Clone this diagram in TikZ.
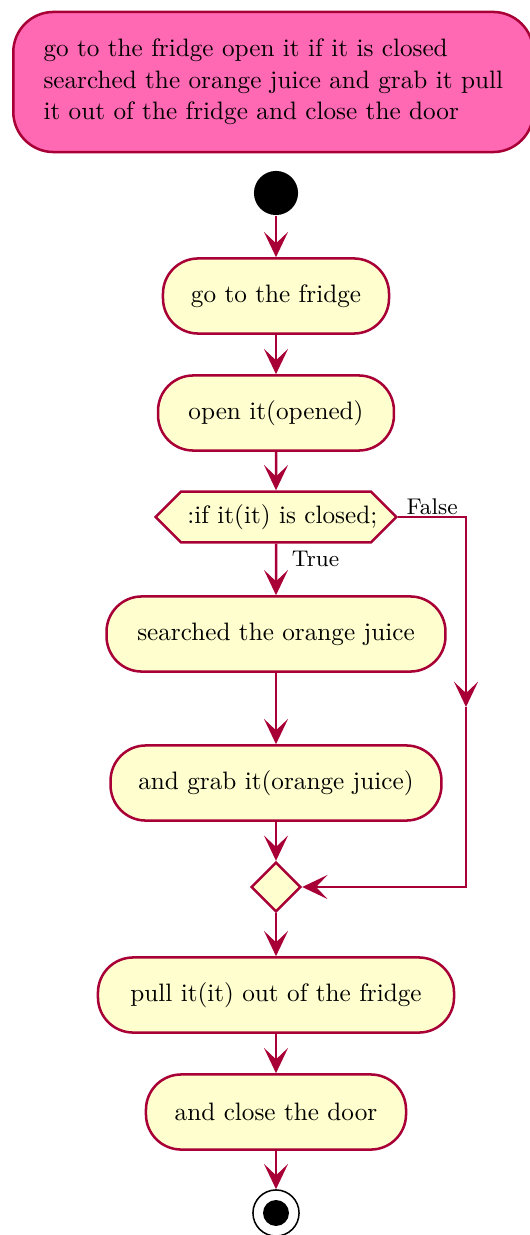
\documentclass[tikz,border=0pt]{standalone}
\usepackage{tikz}
\usetikzlibrary{positioning,arrows.meta,shapes.geometric,shapes.symbols}
\usepackage{xcolor}
\definecolor{umlred}{HTML}{A80036}
\definecolor{umlfill}{HTML}{FEFECE}
\definecolor{notepink}{HTML}{FF69B4}

\begin{document}
\begin{tikzpicture}[x=0.3968pt,y=-0.3968pt,>={Stealth[length=10pt,width=9.5pt,inset=4.5pt]},
  act/.style={draw=umlred,fill=umlfill,line width=1pt,rounded corners=14pt,minimum height=29.8pt,inner sep=0pt},
  flow/.style={->,draw=umlred,line width=1pt}]
\useasboundingbox (0,0) rectangle (529,1235);
\node[draw=umlred,fill=notepink,line width=1pt,rounded corners=16pt,anchor=west,inner xsep=12pt,minimum height=55.6pt,align=left] (note) at (12,82) {go to the fridge open it if it is closed\\[0.5pt]searched the orange juice and grab it pull\\[0.5pt]it out of the fridge and close the door};
\node[circle,fill=black,minimum size=17.5pt,inner sep=0pt] (start) at (276,193) {};
\node[act,minimum width=89.7pt] (fridge) at (276,296) {go to the fridge};
\node[act,minimum width=93.6pt] (open) at (276,413) {open it(opened)};
\node[signal,signal to=west and east,signal pointer angle=90,draw=umlred,fill=umlfill,line width=1pt,minimum height=20.2pt,inner xsep=-2.5pt,inner ysep=0pt] (check) at (276,517) {\hspace*{5pt}:if it(it) is closed;};
\node[act,minimum width=134.5pt] (search) at (276,634) {searched the orange juice};
\node[act,minimum width=131.3pt] (grab) at (276,783) {and grab it(orange juice)};
\node[diamond,draw=umlred,fill=umlfill,line width=1pt,minimum size=19.8pt,inner sep=0pt] (merge) at (276,887) {};
\node[act,minimum width=141.3pt] (pull) at (276,995) {pull it(it) out of the fridge};
\node[act,minimum width=103.2pt] (close) at (276,1112) {and close the door};
\node[circle,draw=black,line width=0.6pt,minimum size=18.3pt,inner sep=0pt] (stop) at (276,1213) {};
\node[circle,fill=black,minimum size=10.3pt,inner sep=0pt] (stopdot) at (stop) {};
\coordinate (ftop) at (466,517);
\coordinate (fmid) at (466,707);
\coordinate (fbot) at (466,887);

\draw[flow] (start) -- (fridge);
\draw[flow] (fridge) -- (open);
\draw[flow] (open) -- (check);
\draw[flow] (check) -- node[pos=0.3,right=2.5pt,font=\small]{True} (search);
\draw[flow] (search) -- (grab);
\draw[flow] (grab) -- (merge);
\draw[flow] (check.east) -- node[above=-3pt,font=\small]{False} (ftop) -- (fmid);
\draw[flow] (fmid) -- (fbot) -- (merge.east);
\draw[flow] (merge) -- (pull);
\draw[flow] (pull) -- (close);
\draw[flow] (close) -- (stop);
\end{tikzpicture}
\end{document}
